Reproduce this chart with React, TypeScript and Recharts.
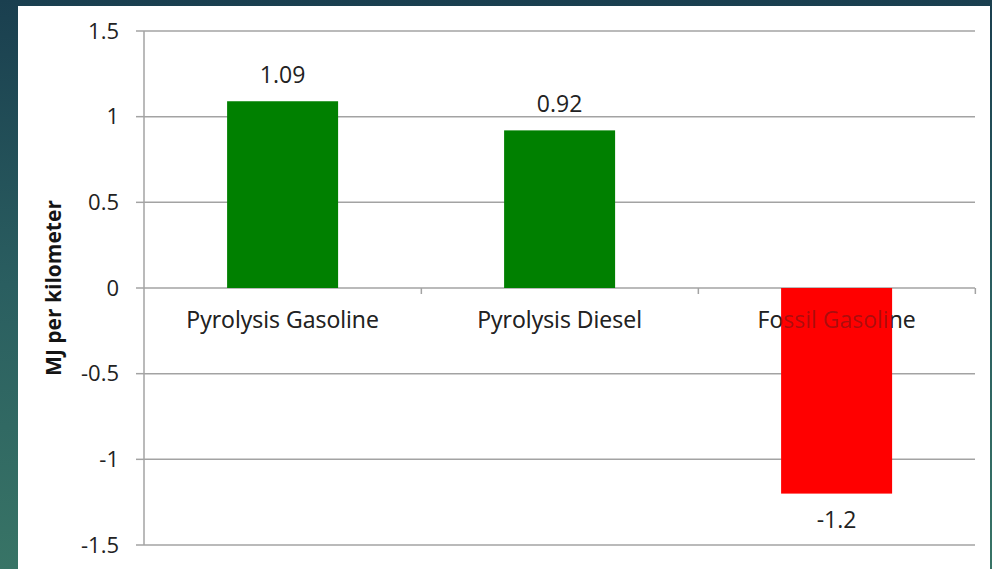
import React from 'react';
import { BarChart, Bar, XAxis, YAxis, CartesianGrid, LabelList } from 'recharts';

const categories = ['Pyrolysis Gasoline', 'Pyrolysis Diesel', 'Fossil Gasoline'];
const values = [1.09, 0.92, -1.2];
const barColors = ['#008000', '#008000', '#FF0000'];
const yTicks = [-1.5, -1, -0.5, 0, 0.5, 1, 1.5];

const data = categories.map((name, i) => ({ name, value: values[i], color: barColors[i] }));

const FONT = '"Open Sans", "Liberation Sans", sans-serif';
const TEXT = '#222222';
const GRID = '#a3a3a3';
const GAP_FRACTION = 0.3;

const BarShape = (props: any) => {
  const { x, y, width, height, payload } = props;
  const top = Math.min(y, y + height);
  const h = Math.abs(height);
  const zeroY = payload.value >= 0 ? top + h : top;
  const cx = x + width / 2;
  const labelY = zeroY + 40;
  const label = (op: number) => (
    <text x={cx} y={labelY} textAnchor="middle" fontSize={23} fontFamily={FONT} fill={TEXT} fillOpacity={op}>
      {payload.name}
    </text>
  );
  const band = width / (1 - 2 * GAP_FRACTION);
  const bx = cx + band / 2;
  return (
    <g>
      {label(1)}
      <rect x={x} y={top} width={width} height={h} fill={payload.color} />
      {label(0.38)}
      <line x1={bx} x2={bx} y1={zeroY} y2={zeroY + 6} stroke={GRID} strokeWidth={1.5} />
    </g>
  );
};

export default function App() {
  return (
    <div
      style={{
        position: 'absolute',
        left: 0,
        top: 0,
        width: 992,
        height: 569,
        background: 'linear-gradient(to bottom, #1a3f4f 0%, #2a5e60 50%, #387466 100%)',
        overflow: 'hidden',
      }}
    >
      <div
        style={{
          position: 'absolute',
          left: 18,
          top: 6,
          width: 972,
          height: 563,
          background: '#ffffff',
        }}
      />
      <div style={{ position: 'absolute', left: 0, top: 0 }}>
        <BarChart
          width={992}
          height={569}
          data={data}
          margin={{ top: 31, right: 17, bottom: 24, left: 20 }}
          barCategoryGap={`${GAP_FRACTION * 100}%`}
        >
          <CartesianGrid vertical={false} stroke={GRID} strokeWidth={1.5} />
          <XAxis dataKey="name" hide />
          <YAxis
            width={124}
            domain={[-1.5, 1.5]}
            ticks={yTicks}
            tickFormatter={(v: number) => String(v)}
            tickSize={8}
            tickMargin={17}
            axisLine={{ stroke: GRID, strokeWidth: 1.5 }}
            tickLine={{ stroke: GRID, strokeWidth: 1.5 }}
            tick={{ fontSize: 22, fontFamily: FONT, fill: TEXT }}
            label={{
              value: 'MJ per kilometer',
              angle: -90,
              position: 'insideLeft',
              offset: 34,
              style: { textAnchor: 'middle', fontWeight: 'bold', fontSize: 21, fontFamily: FONT, fill: '#141414' },
            }}
          />
          <Bar dataKey="value" isAnimationActive={false} shape={<BarShape />}>
            <LabelList
              dataKey="value"
              position="top"
              offset={18}
              style={{ fontSize: 23, fontFamily: FONT, fill: TEXT }}
            />
          </Bar>
        </BarChart>
      </div>
    </div>
  );
}
